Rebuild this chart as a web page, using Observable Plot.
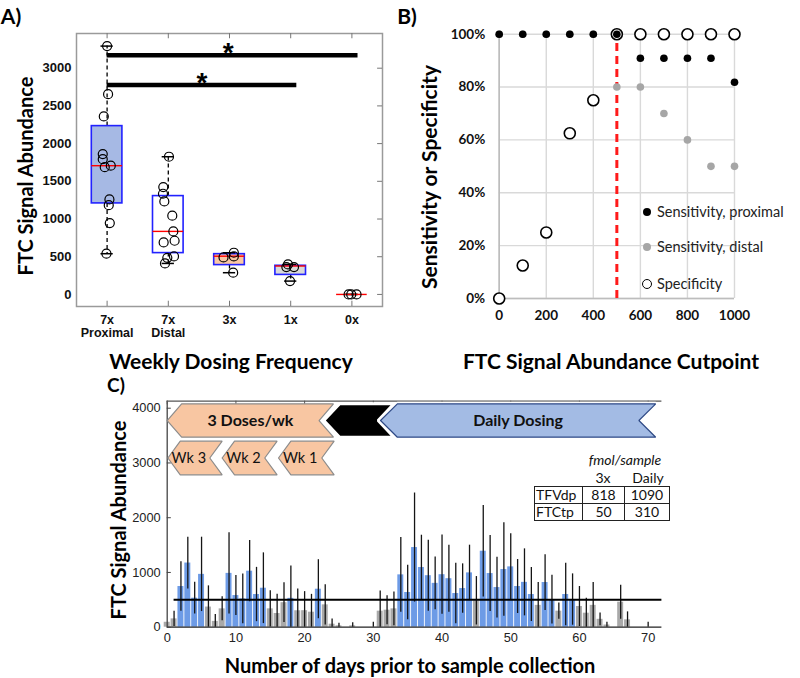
<!DOCTYPE html>
<html><head><meta charset="utf-8">
<script src="https://cdn.jsdelivr.net/npm/d3@7"></script>
<script src="https://cdn.jsdelivr.net/npm/@observablehq/plot@0.6"></script>
<style>
body{margin:0;background:#fff;}
#root{position:relative;width:800px;height:678px;overflow:hidden;background:#fff;font-family:Lato,"Liberation Sans",sans-serif;color:#000;}
.t{position:absolute;white-space:nowrap;transform:translate(-50%,-50%);font-weight:bold;line-height:1;}
.ty{position:absolute;white-space:nowrap;transform:translate(-50%,-50%) rotate(-90deg);font-weight:bold;line-height:1;}
.leg{position:absolute;font-family:Lato,sans-serif;font-size:14.5px;color:#222;white-space:nowrap;line-height:1;transform:translateY(-50%);}
.mk{position:absolute;border-radius:50%;box-sizing:border-box;transform:translate(-50%,-50%);}
.tb{position:absolute;font-family:Lato,sans-serif;font-size:14px;color:#111;white-space:nowrap;line-height:1;transform:translate(-50%,-50%);}
table.ft{position:absolute;left:534px;top:486px;border-collapse:collapse;font-family:Lato,sans-serif;font-size:14px;color:#111;}
table.ft td{border:1.5px solid #222;height:16px;padding:0;line-height:16px;text-align:center;}
table.ft td.n{text-align:left;padding-left:1px;}
</style></head>
<body>
<div id="root"></div>
<script>
// ---------------- Panel A data ----------------
const groupNames = ["7x Proximal", "7x Distal", "3x", "1x", "0x"];
const tickLine1 = ["7x", "7x", "3x", "1x", "0x"];
const tickLine2 = ["Proximal", "Distal", "", "", ""];
const boxQ1 = [1207, 548, 389, 259, 0];
const boxMedian = [1707, 836, 507, 377, 0];
const boxQ3 = [2232, 1304, 534, 380, 0];
const whiskerLow = [540, 411, 288, 177, 0];
const whiskerHigh = [3293, 1826, 553, 398, 0];
const pointsProximal = [3293, 2656, 2361, 1861, 1794, 1707, 1688, 1260, 1184, 946, 540];
const jitterProximal = [0, 0.016, -0.054, -0.071, -0.071, 0.06, -0.038, 0.038, 0.027, 0.044, -0.011];
const pointsDistal = [1826, 1423, 1335, 1233, 1044, 836, 712, 690, 504, 486, 411];
const jitterDistal = [0.011, -0.082, -0.087, -0.065, 0.065, 0.082, 0.103, -0.076, 0.093, -0.016, -0.054];
const points3x = [553, 504, 491, 288];
const jitter3x = [0.071, 0.071, -0.098, 0.06];
const points1x = [398, 363, 363, 177];
const jitter1x = [-0.044, -0.071, 0.054, -0.011];
const points0x = [0, 0, 0];
const jitter0x = [-0.054, -0.011, 0.076];
const sigFrom = [1, 1];
const sigTo = [5.1, 4.1];
const sigLevel = [3170, 2776];
const sigMark = ["*", "*"];
const sigLabelAt = [2.98, 2.55];
const yTicksA = [0, 500, 1000, 1500, 2000, 2500, 3000];

// ---------------- Panel B data ----------------
const cutpoints = [0, 100, 200, 300, 400, 500, 600, 700, 800, 900, 1000];
const sensProximal = [1, 1, 1, 1, 1, 1, 0.909, 0.909, 0.909, 0.909, 0.818];
const sensDistal = [1, 1, 1, 1, 1, 0.8, 0.8, 0.7, 0.6, 0.5, 0.5];
const specificity = [0, 0.125, 0.25, 0.625, 0.75, 1, 1, 1, 1, 1, 1];
const chosenCutpoint = [500];
const xTicksB = [0, 200, 400, 600, 800, 1000];
const yTicksB = [0, 0.2, 0.4, 0.6, 0.8, 1];
const legendB = ["Sensitivity, proximal", "Sensitivity, distal", "Specificity"];

// ---------------- Panel C data ----------------
const days = d3.range(0, 71);
const meanSignal = [90,152,743,1172,530,965,368,106,335,983, 578,517,1023,597,712,335,250,448,527,300, 302,274,694,408,55,25,null,25,null,null, 0,293,311,335,956,634,1455,1090,941,801, 959,886,615,706,992,483,1388,980,724,1053, 1102,743,819,597,399,816,505,293,597,505, 378,256,399,144,40,null,457,135,null,null,0];
const upperSignal = [90,290,1195,1644,820,1644,755,230,554,1723, 944,970,1583,1093,1358,667,600,810,1120,700, 650,600,1233,776,150,70,null,80,null,null, 90,660,575,645,1638,1132,2451,1680,1589,1282, 1683,1498,1169,1157,1498,925,2223,1674,1279,1906, 1705,1236,1431,1090,816,1325,950,440,1166,974, 743,530,816,260,92,null,767,280,null,null,90];
const cutpointC = [500];
const phaseNames = ["3 Doses/wk", "", "Daily Dosing"];
const phaseStart = [0, 22.8, 31.05];
const phaseEnd = [24.2, 33.0, 71.1];
const weekNames = ["Wk 3", "Wk 2", "Wk 1"];
const weekStart = [0.1, 8.0, 16.2];
const weekEnd = [8.0, 16.0, 24.3];
const xTicksC = [0, 10, 20, 30, 40, 50, 60, 70];
const yTicksC = [0, 1000, 2000, 3000, 4000];
const tableRows = ["TFVdp", "FTCtp"];
const table3x = [818, 50];
const tableDaily = [1090, 310];

// ---------------- styles ----------------
const boxFills = ["#a6b9e4", "#ffffff", "#f9c7a5", "#d9d9d9", "none"];
const BLUE = "#6d9be6", GRAY = "#a9a9a9";
const ARIAL = "'Liberation Sans', Arial, sans-serif";
const CAL = "Lato, 'Open Sans', sans-serif";

const root = document.getElementById("root");
function place(el, left, top) {
  el.style.position = "absolute"; el.style.left = left + "px"; el.style.top = top + "px";
  el.style.background = "transparent"; el.style.overflow = "visible";
  root.appendChild(el);
}
function html(s) { root.insertAdjacentHTML("beforeend", s); }

// ---------------- Panel A ----------------
const groups = groupNames.map((name, i) => ({pos: i + 1, name, label: tickLine2[i] ? tickLine1[i] + "\n" + tickLine2[i] : tickLine1[i],
  q1: boxQ1[i], med: boxMedian[i], q3: boxQ3[i], lo: whiskerLow[i], hi: whiskerHigh[i], fill: boxFills[i]}));
const ptsA = [];
[[pointsProximal, jitterProximal], [pointsDistal, jitterDistal], [points3x, jitter3x], [points1x, jitter1x], [points0x, jitter0x]]
  .forEach(([vals, jit], g) => vals.forEach((v, k) => ptsA.push({x: g + 1 + jit[k], v})));
const sig = sigFrom.map((f, i) => ({f, t: sigTo[i], y: sigLevel[i], m: sigMark[i], lx: sigLabelAt[i]}));

const A = Plot.plot({
  width: 400, height: 340,
  marginLeft: 76, marginRight: 18, marginTop: 33, marginBottom: 34,
  x: {domain: [0.5, 5.5], axis: null},
  y: {domain: [-160, 3460], axis: null},
  color: {type: "identity"},
  style: {fontFamily: ARIAL, background: "transparent"},
  marks: [
    Plot.frame({stroke: "#9a9a9a", strokeWidth: 1.5}),
    Plot.ruleX(groups, {x: "pos", y1: 3460, y2: 3390, stroke: "#777"}),
    Plot.ruleX(groups, {x: "pos", y1: -160, y2: -90, stroke: "#777"}),
    Plot.ruleY(yTicksA, {y: d => d, x1: 5.5, x2: 5.42, stroke: "#777"}),
    Plot.ruleX(groups, {x: "pos", y1: "q3", y2: "hi", stroke: "#000", strokeWidth: 1.3, strokeDasharray: "4,3"}),
    Plot.ruleX(groups, {x: "pos", y1: "q1", y2: "lo", stroke: "#000", strokeWidth: 1.3, strokeDasharray: "4,3"}),
    Plot.rect(groups.filter(d => d.q3 > d.q1), {x1: d => d.pos - 0.25, x2: d => d.pos + 0.25, y1: "q1", y2: "q3",
      fill: "fill", stroke: "#2222ff", strokeWidth: 1.6}),
    Plot.ruleY(groups, {y: "hi", x1: d => d.pos - 0.1, x2: d => d.pos + 0.1, stroke: "#000", strokeWidth: 1.5}),
    Plot.ruleY(groups, {y: "lo", x1: d => d.pos - 0.1, x2: d => d.pos + 0.1, stroke: "#000", strokeWidth: 1.5}),
    Plot.ruleY(groups, {y: "med", x1: d => d.pos - 0.25, x2: d => d.pos + 0.25, stroke: "#ff0000", strokeWidth: 1.4}),
    Plot.dot(ptsA, {x: "x", y: "v", r: 4.5, stroke: "#000", strokeWidth: 1.2, fill: "none"}),
    Plot.ruleY(sig, {y: "y", x1: "f", x2: "t", stroke: "#000", strokeWidth: 4.5}),
    Plot.text(sig, {x: "lx", y: "y", text: "m", fontSize: 28, fontWeight: "bold", dy: -2, fill: "#000"}),
    Plot.text(groups, {x: "pos", text: "label", frameAnchor: "bottom", lineAnchor: "top", dy: 7.5, lineHeight: 1.07,
      fontSize: 12.5, fontWeight: "bold", fill: "#111"}),
    Plot.text(yTicksA, {y: d => d, text: d => String(d), frameAnchor: "left", dx: -5, textAnchor: "end",
      fontSize: 13, fontWeight: "bold", fill: "#111"})
  ]
});
place(A, 0, 0);

// ---------------- Panel B ----------------
const bPts = cutpoints.map((c, i) => ({c, prox: sensProximal[i], dist: sensDistal[i], spec: specificity[i]}));
const B = Plot.plot({
  width: 400, height: 340,
  marginLeft: 98.7, marginRight: 66, marginTop: 33.7, marginBottom: 42,
  x: {domain: [0, 1000], axis: null},
  y: {domain: [0, 1], axis: null},
  style: {fontFamily: CAL, background: "transparent"},
  marks: [
    Plot.ruleX(xTicksB, {x: d => d, y1: 0, y2: 1, stroke: "#d9d9d9", strokeWidth: 1.4}),
    Plot.ruleY(yTicksB, {y: d => d, x1: 0, x2: 1000, stroke: "#d9d9d9", strokeWidth: 1.4}),
    Plot.ruleX([0], {y1: 0, y2: 1, stroke: "#bdbdbd", strokeWidth: 1.6}),
    Plot.ruleY([0], {x1: 0, x2: 1000, stroke: "#bdbdbd", strokeWidth: 1.6}),
    Plot.ruleX(chosenCutpoint, {x: d => d, y1: 0, y2: 1, stroke: "#ff1a1a", strokeWidth: 3, strokeDasharray: "8,5"}),
    Plot.dot(bPts, {x: "c", y: "dist", r: 3.8, fill: "#a6a6a6"}),
    Plot.dot(bPts, {x: "c", y: "spec", r: 5.5, fill: "#fff", stroke: "#000", strokeWidth: 1.6}),
    Plot.dot(bPts, {x: "c", y: "prox", r: 3.8, fill: "#000"}),
    Plot.text(xTicksB, {x: d => d, text: d => String(d), frameAnchor: "bottom", dy: 21, fontSize: 13.5, fontWeight: "bold", fill: "#111"}),
    Plot.text(yTicksB, {y: d => d, text: d => d3.format(".0%")(d), frameAnchor: "left", dx: -14, textAnchor: "end",
      fontSize: 13.5, fontWeight: "bold", fill: "#111"})
  ]
});
place(B, 400, 0);

// ---------------- Panel C ----------------
const bars = days.map((d, i) => ({day: d, mean: meanSignal[i], upper: upperSignal[i]})).filter(d => d.mean !== null);
function chevron(id, start, end, depth, yLo, yHi) {
  const mid = (yLo + yHi) / 2;
  return [[start, mid], [start + depth, yHi], [end, yHi], [end - depth, mid], [end, yLo], [start + depth, yLo], [start, mid]]
    .map(([x, y]) => ({id, x, y}));
}
const TOP_LO = 3470, TOP_HI = 4080, WK_LO = 2784, WK_HI = 3397;
const polyOrange = chevron(0, phaseStart[0], phaseEnd[0], 2.1, TOP_LO, TOP_HI);
const polyBlack = chevron(1, phaseStart[1], phaseEnd[1], 2.3, TOP_LO, TOP_HI);
const polyBlue = chevron(2, phaseStart[2], phaseEnd[2], 2.45, TOP_LO, TOP_HI);
const weekPolys = weekNames.map((n, i) => chevron(i, weekStart[i], weekEnd[i], 1.8, WK_LO, WK_HI));
const phaseLabels = phaseNames.map((n, i) => ({n, x: (phaseStart[i] + phaseEnd[i]) / 2})).filter(d => d.n);
const weekLabels = weekNames.map((n, i) => ({n, x: (weekStart[i] + weekEnd[i] - 1.8) / 2}));
const YMAXC = 4128;

const C = Plot.plot({
  width: 800, height: 298,
  marginLeft: 166.7, marginRight: 138.6, marginTop: 20.7, marginBottom: 51.3,
  x: {domain: [0, 72], axis: null},
  y: {domain: [0, YMAXC], axis: null},
  color: {type: "identity"},
  style: {fontFamily: ARIAL, background: "transparent"},
  marks: [
    Plot.rect(bars, {x1: d => d.day - 0.5, x2: d => d.day + 0.5, y1: 0, y2: "mean", insetLeft: 0.45, insetRight: 0.45,
      fill: d => d.mean > cutpointC[0] ? BLUE : GRAY}),
    Plot.ruleX(bars.filter(d => d.upper > d.mean), {x: "day", y1: d => Math.max(0, 2 * d.mean - d.upper), y2: "upper",
      stroke: "#151515", strokeWidth: 1.3}),
    Plot.ruleY(cutpointC, {y: d => d, x1: 1, x2: 72, stroke: "#000", strokeWidth: 2}),
    Plot.ruleX([0], {y1: 0, y2: YMAXC, stroke: "#444", strokeWidth: 1.3}),
    Plot.ruleY([YMAXC], {x1: 0, x2: 72, stroke: "#555", strokeWidth: 1.2}),
    Plot.ruleY([0], {x1: 0, x2: 72, stroke: "#222", strokeWidth: 1.3}),
    Plot.ruleX(xTicksC, {x: d => d, y1: YMAXC, y2: YMAXC - 65, stroke: "#555"}),
    Plot.ruleY(yTicksC, {y: d => d, x1: 0, x2: 0.6, stroke: "#444"}),
    ...weekPolys.map(p => Plot.line(p, {x: "x", y: "y", fill: "#f8c6a2", stroke: "#8c8c8c", strokeWidth: 1.2, strokeLinejoin: "miter"})),
    Plot.line(polyOrange, {x: "x", y: "y", fill: "#f8c6a2", stroke: "#8c8c8c", strokeWidth: 1.2, strokeLinejoin: "miter"}),
    Plot.line(polyBlack, {x: "x", y: "y", fill: "#000", stroke: "#fff", strokeWidth: 3, strokeLinejoin: "miter"}),
    Plot.line(polyBlue, {x: "x", y: "y", fill: "none", stroke: "#fff", strokeWidth: 4, strokeLinejoin: "miter"}),
    Plot.line(polyBlue, {x: "x", y: "y", fill: "#a3bbe4", stroke: "#2f4a86", strokeWidth: 1.2, strokeLinejoin: "miter"}),
    Plot.text(phaseLabels, {x: "x", y: (TOP_LO + TOP_HI) / 2, text: "n", fontFamily: CAL, fontWeight: "bold", fontSize: 16, fill: "#111"}),
    Plot.text(weekLabels, {x: "x", y: (WK_LO + WK_HI) / 2, text: "n", fontFamily: CAL, fontSize: 14.5, fill: "#111"}),
    Plot.text(xTicksC, {x: d => d, text: d => String(d), frameAnchor: "bottom", dy: 14.3, fontSize: 12.8, fill: "#222"}),
    Plot.text(yTicksC, {y: d => d, text: d => String(d), frameAnchor: "left", dx: -6.5, textAnchor: "end", fontSize: 12.8, fill: "#222"})
  ]
});
place(C, 0, 380);

// ---------------- HTML text: panel letters, titles, legend, table ----------------
html(`<div class="t" style="left:11px;top:15px;font-size:21px">A)</div>`);
html(`<div class="t" style="left:407px;top:15px;font-size:21px">B)</div>`);
html(`<div class="t" style="left:116px;top:384px;font-size:19px">C)</div>`);
html(`<div class="t" style="left:231px;top:360px;font-size:21px">Weekly Dosing Frequency</div>`);
html(`<div class="ty" style="left:25px;top:176px;font-size:20px">FTC Signal Abundance</div>`);
html(`<div class="t" style="left:611px;top:360px;font-size:21px">FTC Signal Abundance Cutpoint</div>`);
html(`<div class="ty" style="left:428px;top:177px;font-size:21px">Sensitivity or Specificity</div>`);
html(`<div class="t" style="left:410px;top:665px;font-size:20px">Number of days prior to sample collection</div>`);
html(`<div class="ty" style="left:118px;top:520px;font-size:20px">FTC Signal Abundance</div>`);

const legY = [212, 247, 284];
const legStyle = ["background:#000;width:8px;height:8px", "background:#a6a6a6;width:8px;height:8px", "border:1.6px solid #000;background:#fff;width:10px;height:10px"];
legendB.forEach((s, i) => {
  html(`<div class="mk" style="left:647px;top:${legY[i]}px;${legStyle[i]}"></div>`);
  html(`<div class="leg" style="left:657px;top:${legY[i]}px">${s}</div>`);
});

html(`<div class="tb" style="left:625px;top:460px;font-style:italic">fmol/sample</div>`);
html(`<div class="tb" style="left:603px;top:478px">3x</div>`);
html(`<div class="tb" style="left:648px;top:478px">Daily</div>`);
let rows = tableRows.map((r, i) => `<tr><td class="n" style="width:46px">${r}</td><td style="width:41px">${table3x[i]}</td><td style="width:44px">${tableDaily[i]}</td></tr>`).join("");
html(`<table class="ft">${rows}</table>`);
</script>
</body></html>
